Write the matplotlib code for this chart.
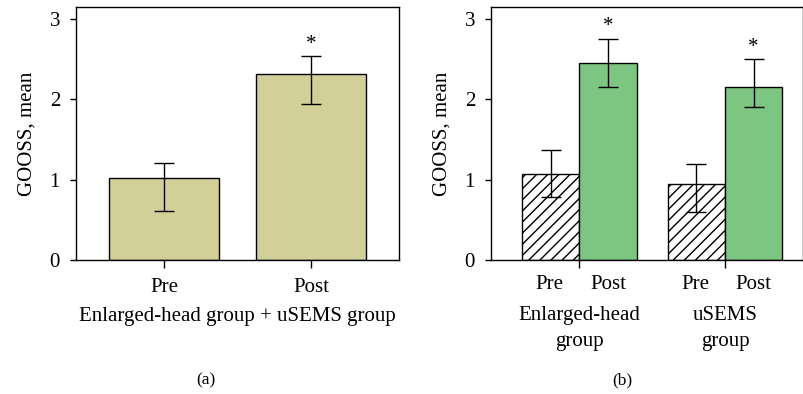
import matplotlib.pyplot as plt
import numpy as np

plt.rcParams["font.family"] = ["Liberation Serif", "DejaVu Serif"]
plt.rcParams["hatch.linewidth"] = 1.0

# panel (a): pooled groups
pooled_labels = ["Pre", "Post"]
pooled_mean = [1.02, 2.31]
pooled_err_low = [0.41, 0.37]
pooled_err_high = [0.19, 0.225]

# panel (b): by group
groups = ["Enlarged-head\ngroup", "uSEMS\ngroup"]
pre_mean = [1.075, 0.945]
pre_err_low = [0.295, 0.345]
pre_err_high = [0.295, 0.25]
post_mean = [2.45, 2.16]
post_err_low = [0.29, 0.26]
post_err_high = [0.305, 0.34]

khaki = "#D3CF99"
green = "#7DC682"

fig = plt.figure(figsize=(8.04, 3.94), dpi=100)
ax1 = fig.add_axes([76 / 804, 1 - 260 / 394, 323 / 804, 253 / 394])
ax2 = fig.add_axes([491 / 804, 1 - 260 / 394, 312 / 804, 253 / 394])

fs = 15
cap = 7.5

# (a)
x = np.arange(len(pooled_labels))
ax1.bar(x, pooled_mean, width=0.75, color=khaki, edgecolor="black", linewidth=1.0)
ax1.errorbar(x, pooled_mean, yerr=[pooled_err_low, pooled_err_high], fmt="none",
             ecolor="black", elinewidth=1.0, capsize=cap, capthick=1.0)
ax1.text(x[1], pooled_mean[1] + pooled_err_high[1] + 0.03, "*", ha="center",
         va="bottom", fontsize=fs)
ax1.set_xlim(-0.6, 1.6)
ax1.set_xticks(x)
ax1.set_xticklabels(pooled_labels)
ax1.set_xlabel("Enlarged-head group + uSEMS group", fontsize=fs, labelpad=7)
ax1.text(0.402, -0.475, "(a)", transform=ax1.transAxes, ha="center", va="center",
         fontsize=12.5)

# (b)
g = np.arange(len(groups))
w = 0.393
ax2.bar(g - w / 2, pre_mean, width=w, color="white", edgecolor="black",
        hatch="///", linewidth=1.0)
ax2.bar(g + w / 2, post_mean, width=w, color=green, edgecolor="black", linewidth=1.0)
ax2.errorbar(g - w / 2, pre_mean, yerr=[pre_err_low, pre_err_high], fmt="none",
             ecolor="black", elinewidth=1.0, capsize=cap, capthick=1.0)
ax2.errorbar(g + w / 2, post_mean, yerr=[post_err_low, post_err_high], fmt="none",
             ecolor="black", elinewidth=1.0, capsize=cap, capthick=1.0)
for xi, m, e in zip(g + w / 2, post_mean, post_err_high):
    ax2.text(xi, m + e + 0.03, "*", ha="center", va="bottom", fontsize=fs)
ax2.set_xlim(-0.606, 1.535)
ax2.set_xticks(g)
ax2.set_xticklabels([])
for gi, name in zip(g, groups):
    ax2.text(gi - w / 2 - 0.01, -0.06, "Pre", ha="center", va="top", fontsize=fs,
             transform=ax2.get_xaxis_transform())
    ax2.text(gi + w / 2, -0.06, "Post", ha="center", va="top", fontsize=fs,
             transform=ax2.get_xaxis_transform())
    ax2.text(gi, -0.18, name, ha="center", va="top", fontsize=fs, linespacing=1.5,
             transform=ax2.get_xaxis_transform())
ax2.text(0.42, -0.475, "(b)", transform=ax2.transAxes, ha="center", va="center",
         fontsize=12.5)

for ax in (ax1, ax2):
    ax.set_ylim(0, 3.15)
    ax.set_yticks([0, 1, 2, 3])
    ax.set_ylabel("GOOSS, mean", fontsize=fs, labelpad=9)
    ax.tick_params(axis="both", direction="out", length=4.5, width=1.0,
                   labelsize=fs, pad=7)
    ax.tick_params(axis="x", length=6, pad=7)
    for s in ax.spines.values():
        s.set_linewidth(1.0)

fig.savefig("out.png", dpi=100)
